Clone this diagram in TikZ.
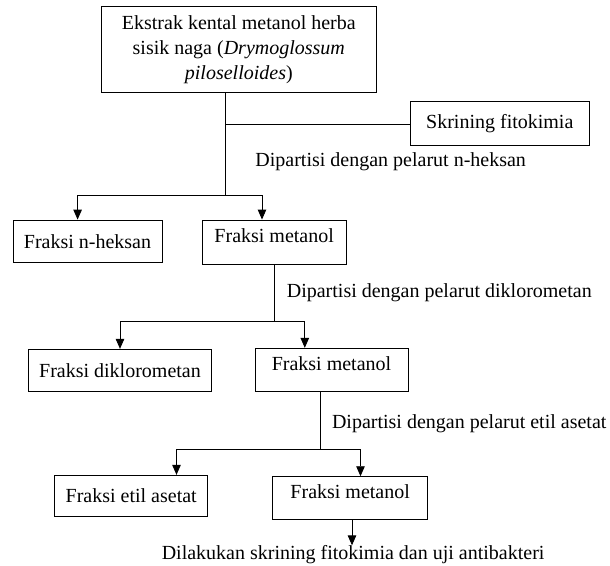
\documentclass[tikz,border=0pt]{standalone}
\usepackage{fontspec}
\setmainfont{Liberation Serif}
\usetikzlibrary{arrows.meta,positioning,calc}

\begin{document}
\begin{tikzpicture}[x=1pt, y=-1pt, >={Triangle[length=10pt,width=8.5pt]}, line width=0.9pt,
  box/.style={draw, inner sep=0pt, font=\fontsize{20}{25}\selectfont},
  atas/.style={text depth=13pt},
  ket/.style={inner sep=0pt, font=\fontsize{20}{25}\selectfont}]
\useasboundingbox (0,0) rectangle (610,565);
% kotak-kotak
\node[box, minimum width=274.4, minimum height=86, align=center] (ekstrak) at (238.8,49.7)
  {Ekstrak kental metanol herba\\ sisik naga (\textit{Drymoglossum}\\ \textit{piloselloides})};
\node[box, minimum width=178.4, minimum height=44] (skrining) at (499.8,123.7) {Skrining fitokimia};
\node[box, minimum width=149, minimum height=42.3] (nheksan) at (87.5,241.2) {Fraksi n-heksan};
\node[box, atas, minimum width=144.5, minimum height=44] (metanolA) at (274.2,242) {Fraksi metanol};
\node[box, minimum width=183.2, minimum height=42] (dcm) at (120,370.3) {Fraksi diklorometan};
\node[box, atas, minimum width=153, minimum height=43] (metanolB) at (331.5,369.8) {Fraksi metanol};
\node[box, minimum width=153, minimum height=41] (etil) at (131.2,495.8) {Fraksi etil asetat};
\node[box, atas, minimum width=154.7, minimum height=42.6] (metanolC) at (350.2,498) {Fraksi metanol};
% keterangan
\node[ket, anchor=west] (ketA) at (255,161.3) {Dipartisi dengan pelarut n-heksan};
\node[ket, anchor=west] (ketB) at (286.4,292.7) {Dipartisi dengan pelarut diklorometan};
\node[ket, anchor=west] (ketC) at (331.6,423.3) {Dipartisi dengan pelarut etil asetat};
\node[ket] (hasil) at (353.1,555) {Dilakukan skrining fitokimia dan uji antibakteri};
% garis
\coordinate (jA) at (225,124.7);
\coordinate (bA) at (225,195);
\coordinate (bB) at (274.2,321);
\coordinate (bC) at (320.3,449.3);
\draw (ekstrak.south -| bA) -- (bA);
\draw (jA) -- (jA -| skrining.west);
\draw[->] (bA) -| ([xshift=-9.9pt]nheksan.north);
\draw[->] (bA) -| ([xshift=-12.2pt]metanolA.north);
\draw (metanolA.south) -- (bB);
\draw[->] (bB) -| (dcm.north);
\draw[->] (bB) -| ([xshift=-26.7pt]metanolB.north);
\draw (metanolB.south -| bC) -- (bC);
\draw[->] (bC) -| ([xshift=45.3pt]etil.north);
\draw[->] (bC) -| ([xshift=10.3pt]metanolC.north);
\draw[->] ([xshift=1.8pt]metanolC.south) -- ([xshift=1.8pt]metanolC.south |- hasil.north);
\end{tikzpicture}
\end{document}
